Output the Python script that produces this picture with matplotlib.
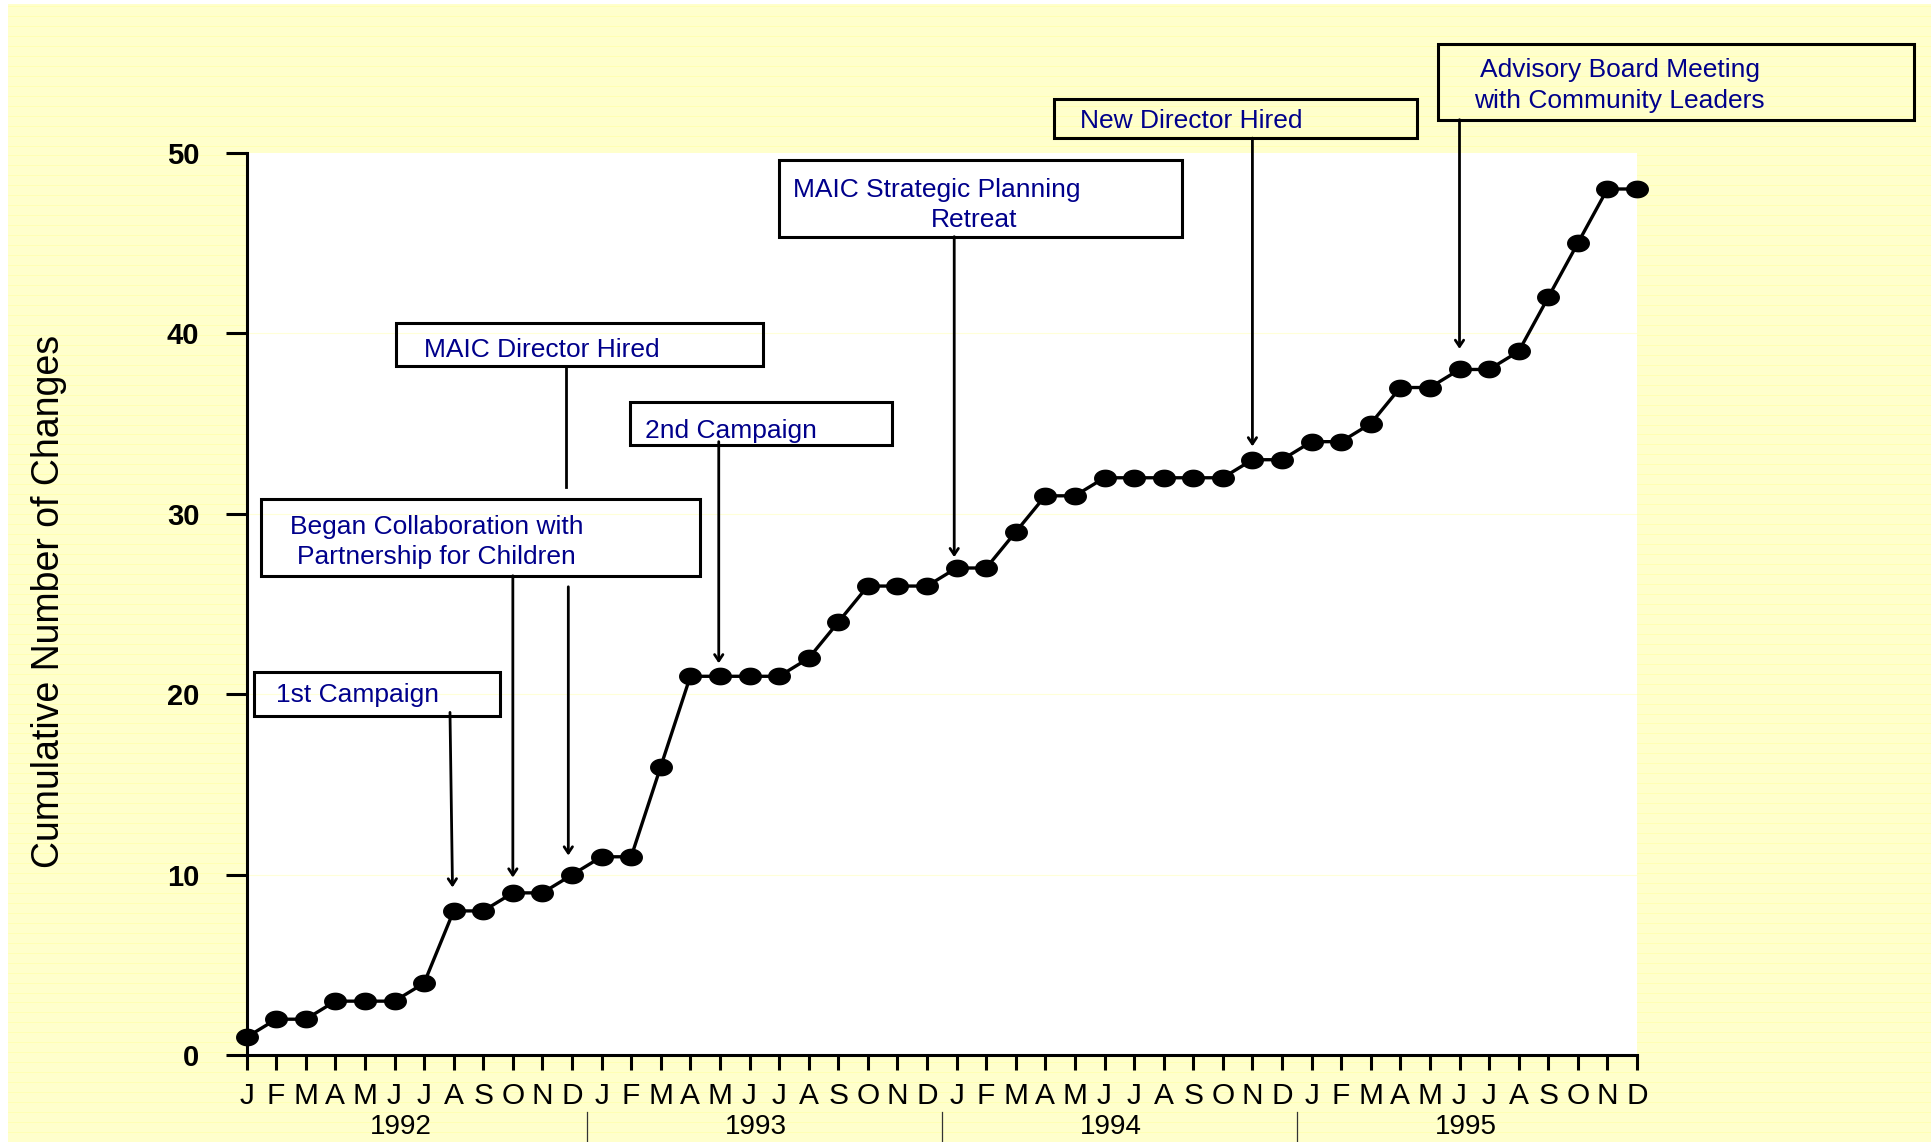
import matplotlib
matplotlib.use('Agg')

import numpy as np
import matplotlib.pyplot as plt
from matplotlib.path import Path
from matplotlib.patches import Rectangle
from matplotlib.lines import Line2D
from matplotlib.transforms import blended_transform_factory

plt.rcParams['font.family'] = ['Liberation Sans', 'DejaVu Sans']
narrow = ['Liberation Sans Narrow', 'Liberation Sans', 'DejaVu Sans']

# cumulative number of changes, one value per month, Jan 1992 - Dec 1995
years = [1992, 1993, 1994, 1995]
month_letters = ['J', 'F', 'M', 'A', 'M', 'J', 'J', 'A', 'S', 'O', 'N', 'D']
changes_1992 = [1, 2, 2, 3, 3, 3, 4, 8, 8, 9, 9, 10]
changes_1993 = [11, 11, 16, 21, 21, 21, 21, 22, 24, 26, 26, 26]
changes_1994 = [27, 27, 29, 31, 31, 32, 32, 32, 32, 32, 33, 33]
changes_1995 = [34, 34, 35, 37, 37, 38, 38, 39, 42, 45, 48, 48]
y_ticks = [0, 10, 20, 30, 40, 50]

# events and the month (index from Jan 1992) each one points at
event_text = ['1st Campaign',
              'Began Collaboration with\nPartnership for Children',
              'MAIC Director Hired',
              '2nd Campaign',
              'MAIC Strategic Planning',
              'New Director Hired',
              'Advisory Board Meeting\nwith Community Leaders']
event_month = [7, 9, 11, 15, 24, 34, 41]

cumulative = changes_1992 + changes_1993 + changes_1994 + changes_1995
months = np.arange(len(cumulative))

W, H = 1933, 1142
fig = plt.figure(figsize=(W / 100, H / 100), dpi=100, facecolor='white')

# pale yellow backdrop with faint ruled lines
bg = fig.add_axes([8 / W, 0, 1 - 10 / W, 1 - 4 / H])
bg.set_facecolor('#FFFFCC')
for yy in np.arange(0, H, 10):
    bg.axhline(yy, color='#FFFF9E', lw=0.6, alpha=0.6)
bg.set_xlim(0, 1)
bg.set_ylim(0, H)
for s in bg.spines.values():
    s.set_visible(False)
bg.set_xticks([])
bg.set_yticks([])

ax = fig.add_axes([246.6 / W, 1 - 1055.3 / H, (1637 - 246.6) / W, (1055.3 - 152.9) / H])
ax.set_facecolor('white')
ax.set_xlim(0, 47)
ax.set_ylim(0, 50)

for v in y_ticks[1:-1]:
    ax.axhline(v, color='#FFFFD8', lw=0.8, zorder=0)

# slightly flattened dot marker
t = np.linspace(0, 2 * np.pi, 60)
ellipse = Path(np.column_stack([np.cos(t), 0.76 * np.sin(t)]), closed=True)
ax.plot(months, cumulative, color='black', lw=2.4, marker=ellipse,
        markersize=15.5, markerfacecolor='black', markeredgecolor='black',
        clip_on=False, zorder=5)

for side in ['top', 'right']:
    ax.spines[side].set_visible(False)
for side in ['left', 'bottom']:
    ax.spines[side].set_linewidth(2.2)

ax.set_xticks(months)
ax.set_xticklabels(month_letters * len(years))
ax.tick_params(axis='x', direction='out', length=11, width=2.2, pad=8)
for lab in ax.get_xticklabels():
    lab.set_family(narrow)
    lab.set_fontsize(21.5)
ax.set_yticks(y_ticks)
ax.tick_params(axis='y', direction='out', length=15, width=2.2, pad=19)
for lab in ax.get_yticklabels():
    lab.set_family(narrow)
    lab.set_fontsize(21)
    lab.set_fontweight('bold')

# year labels and separators under the month letters
trans = blended_transform_factory(ax.transData, fig.transFigure)
for k, yr in enumerate(years):
    ax.text(12 * k + 5.2, 1 - 1127 / H, str(yr), transform=trans,
            ha='center', va='center', fontsize=20, family=narrow)
    if k > 0:
        fig.add_artist(Line2D([12 * k - 0.5] * 2, [0, 1 - 1112 / H],
                              transform=trans, color='#333333', lw=0.9))

fig.text(40 * 1.2328 / W, 1 - 601.6 / H, 'Cumulative Number of Changes',
         rotation=90, ha='center', va='center', fontsize=27)

# event boxes (x0, x1, y0, y1 in data units) and label anchors
navy = '#00008B'
boxes = [(0.25, 8.58, 18.78, 21.24),
         (0.5, 15.33, 26.57, 30.81),
         (5.04, 17.46, 38.18, 40.57),
         (12.96, 21.83, 33.81, 36.2),
         (18.0, 31.625, 45.36, 49.59),
         (27.29, 39.58, 50.82, 53.0),
         (40.29, 56.375, 51.84, 56.01)]
text_pos = [(1.0, 19.95, 'left'),
            (6.42, 28.45, 'center'),
            (6.0, 39.1, 'left'),
            (13.46, 34.6, 'left'),
            (18.46, 47.95, 'left'),
            (28.17, 51.75, 'left'),
            (46.42, 53.75, 'center')]
arrows = [((6.875, 19.0), (6.96, 9.3)),
          ((9.0, 26.57), (9.0, 9.85)),
          ((10.875, 25.96), (10.875, 11.07)),
          ((15.96, 34.0), (15.96, 21.72)),
          ((23.92, 45.36), (23.92, 27.6)),
          ((34.0, 50.82), (34.0, 33.74)),
          ((41.0, 51.84), (41.0, 39.14))]

for (x0, x1, y0, y1), (tx, ty, ha), txt in zip(boxes, text_pos, event_text):
    ax.add_patch(Rectangle((x0, y0), x1 - x0, y1 - y0, fill=False,
                           edgecolor='black', lw=2.2, clip_on=False, zorder=4))
    ax.text(tx, ty, txt, ha=ha, va='center', multialignment='center',
            color=navy, fontsize=19, linespacing=1.35, zorder=6)
ax.text(24.58, 46.3, 'Retreat', ha='center', va='center', color=navy,
        fontsize=19, zorder=6)

for (start, end), m in zip(arrows, event_month):
    ax.annotate('', xy=end, xytext=start, xycoords='data', textcoords='data',
                annotation_clip=False,
                arrowprops=dict(arrowstyle='->,head_length=0.45,head_width=0.3',
                                lw=2.0, color='black', shrinkA=0, shrinkB=0))

# upper piece of the director line, hidden behind the collaboration box
ax.plot([10.79, 10.79], [38.18, 31.49], color='black', lw=2.0, clip_on=False)

fig.savefig('out.png', dpi=100, facecolor=fig.get_facecolor())
